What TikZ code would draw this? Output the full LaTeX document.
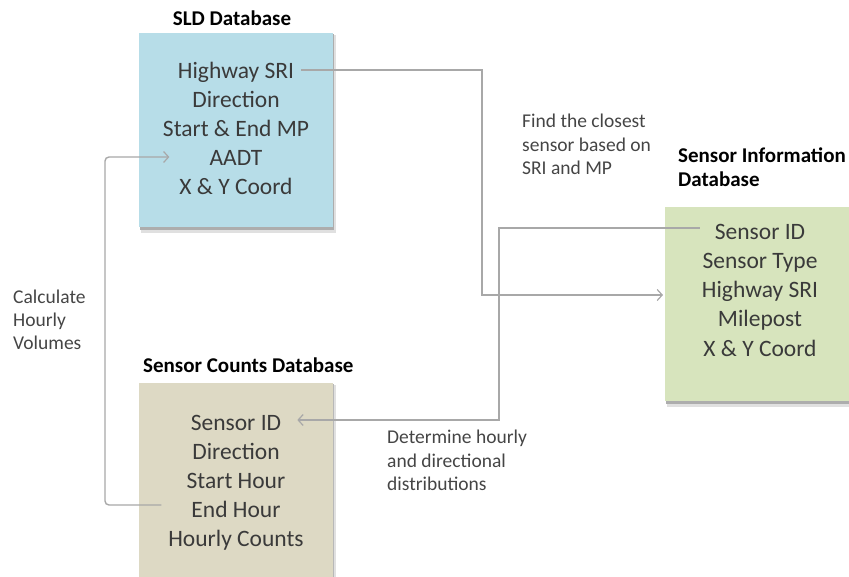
\documentclass[tikz,border=0pt]{standalone}
\usepackage{fontspec}
\setmainfont{Carlito}
\usetikzlibrary{arrows.meta}
\definecolor{sldBlue}{HTML}{B7DDE8}
\definecolor{cntTan}{HTML}{DDD9C4}
\definecolor{infoGreen}{HTML}{D7E4BD}
\definecolor{linkGray}{HTML}{A8A8A8}
\definecolor{inkGray}{HTML}{3A3A3A}
\definecolor{noteGray}{HTML}{454545}
\tikzset{
  dbbox/.style={draw=none, inner sep=0pt, anchor=north west},
  field/.style={anchor=base, inner sep=0pt, font=\fontsize{23.5}{29}\selectfont, text=inkGray},
  dbtitle/.style={anchor=base west, inner sep=0pt, font=\fontsize{21}{24}\selectfont\bfseries, text=black},
  note/.style={anchor=base west, inner sep=0pt, font=\fontsize{19.5}{23.5}\selectfont, text=noteGray},
  conn/.style={draw=linkGray, line width=1.4pt},
  tip/.style={-{Straight Barb[length=5pt,width=11pt,line width=1.2pt]}},
}
\begin{document}
\begin{tikzpicture}[x=1pt, y=-1pt]
  \useasboundingbox (0,0) rectangle (849,577);

  % drop shadows
  \fill[black!12] (141,35) rectangle (336,233);
  \fill[black!32] (140,34) rectangle (334,230);
  \fill[black!12] (667,209) rectangle (849,407);
  \fill[black!32] (666,208) rectangle (849,404);
  \fill[black!12] (141,385) rectangle (336,577);
  \fill[black!28] (140,384) rectangle (334,577);

  % database boxes
  \node[dbbox, fill=sldBlue, minimum width=194pt, minimum height=194pt] (sld) at (139,33) {};
  \node[dbbox, fill=infoGreen, minimum width=184pt, minimum height=194pt] (info) at (665,207) {};
  \node[dbbox, fill=cntTan, minimum width=194pt, minimum height=194pt] (cnt) at (139,383) {};

  % titles
  \node[dbtitle, anchor=base] (sldT) at (232,26) {SLD Database};
  \node[dbtitle] (cntT) at (143,373) {Sensor Counts Database};
  \node[dbtitle] (infoT1) at (678,163) {Sensor Information};
  \node[dbtitle] (infoT2) at (678,187) {Database};

  % SLD fields
  \node[field] (s1) at (236,79) {Highway SRI};
  \node[field] (s2) at (236,108) {Direction};
  \node[field] (s3) at (236,137) {Start \& End MP};
  \node[field] (s4) at (236,166) {AADT};
  \node[field] (s5) at (236,195) {X \& Y Coord};

  % sensor information fields
  \node[field] (i1) at (760,240) {Sensor ID};
  \node[field] (i2) at (760,269) {Sensor Type};
  \node[field] (i3) at (760,298) {Highway SRI};
  \node[field] (i4) at (760,327) {Milepost};
  \node[field] (i5) at (760,356) {X \& Y Coord};

  % sensor counts fields
  \node[field] (c1) at (236,430) {Sensor ID};
  \node[field] (c2) at (236,459) {Direction};
  \node[field] (c3) at (236,488) {Start Hour};
  \node[field] (c4) at (236,517) {End Hour};
  \node[field] (c5) at (236,546) {Hourly Counts};

  % process notes
  \node[note] (n1a) at (522,128) {Find the closest};
  \node[note] (n1b) at (522,152) {sensor based on};
  \node[note] (n1c) at (522,175) {SRI and MP};
  \node[note] (n2a) at (387,443) {Determine hourly};
  \node[note] (n2b) at (387,467) {and directional};
  \node[note] (n2c) at (387,490) {distributions};
  \node[note] (n3a) at (13,304) {Calculate};
  \node[note] (n3b) at (13,327) {Hourly};
  \node[note] (n3c) at (13,350) {Volumes};

  % routing points
  \coordinate (j1) at (482,295);
  \coordinate (j2) at (499,420);
  \coordinate (j3) at (105,157);

  % SLD -> sensor information
  \draw[conn, tip, shorten >=2pt]
    ([shift={(7pt,9pt)}]s1.base east) -| (j1) -- (j1 -| info.west);
  % sensor information -> sensor counts
  \draw[conn, tip]
    ([shift={(-15pt,12pt)}]i1.base west) -| (j2) -- ([shift={(16pt,10pt)}]c1.base east);
  % sensor counts -> SLD
  \draw[conn, tip, rounded corners=4pt]
    ([shift={(-30pt,12pt)}]c4.base west) -| (j3) -- ([shift={(-40pt,9pt)}]s4.base west);
\end{tikzpicture}
\end{document}
